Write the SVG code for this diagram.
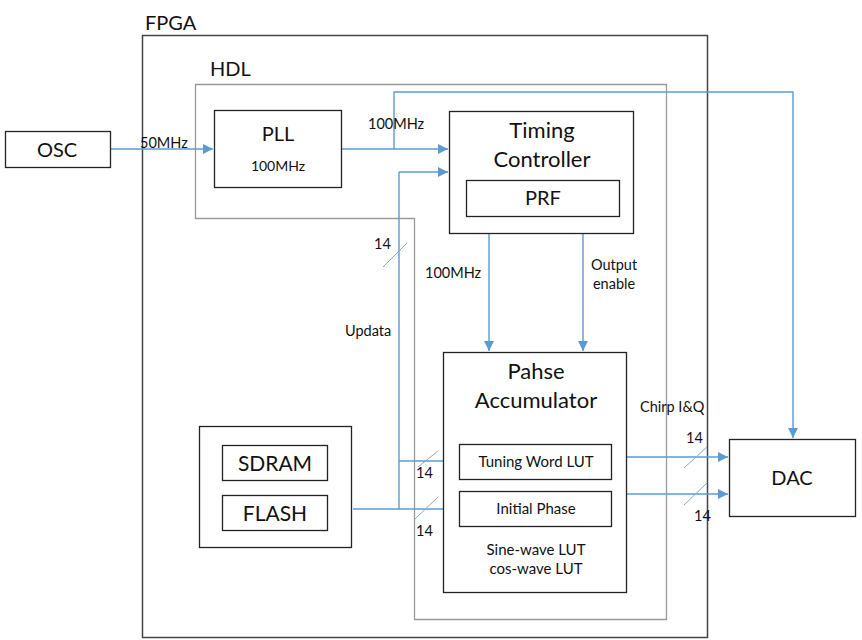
<svg xmlns="http://www.w3.org/2000/svg" width="862" height="640" viewBox="0 0 862 640">
<defs>
<marker id="ah" viewBox="0 0 10 10" refX="10" refY="5" markerWidth="10" markerHeight="10" markerUnits="userSpaceOnUse" orient="auto">
<path d="M0,0 L10,5 L0,10 z" fill="#5b9bd5"/>
</marker>
<style>
.box{fill:#fff;stroke:#222;stroke-width:1.3}
.t{font-family:Lato,"Liberation Sans",sans-serif;fill:#111;text-anchor:middle}
.big{font-size:20px}
.lc{font-size:22px}
.sm{font-size:14.5px}
.s{font-family:Lato,"Liberation Sans",sans-serif;fill:#111;font-size:14.5px}
.c{fill:none;stroke:#5b9bd5;stroke-width:1.4}
.sl{stroke:#8aa9c9;stroke-width:1}
</style>
</defs>
<rect width="862" height="640" fill="#fff"/>
<g id="fpga">
<rect x="142.5" y="35.5" width="565" height="602" fill="none" stroke="#444" stroke-width="1.5"/>
<text x="145" y="30" class="s" style="font-size:20px">FPGA</text>
</g>
<g id="hdl">
<path d="M195.5,84.5 H666.5 V619.5 H414.5 V218.5 H195.5 Z" fill="none" stroke="#9a9a9a" stroke-width="1.3"/>
<text x="210" y="76" class="s" style="font-size:20px">HDL</text>
</g>
<g id="connectors">
<path class="c" d="M110,149 H213" marker-end="url(#ah)"/>
<path class="c" d="M341,149 H448" marker-end="url(#ah)"/>
<path class="c" d="M394,149 V92 H793 V438" marker-end="url(#ah)"/>
<path class="c" d="M399,172 V509"/>
<path class="c" d="M399,172 H448" marker-end="url(#ah)"/>
<path class="c" d="M399,461 H458" marker-end="url(#ah)"/>
<path class="c" d="M353,509 H458" marker-end="url(#ah)"/>
<path class="c" d="M489,234 V351" marker-end="url(#ah)"/>
<path class="c" d="M583,234 V351" marker-end="url(#ah)"/>
<path class="c" d="M627,457 H728" marker-end="url(#ah)"/>
<path class="c" d="M627,494 H728" marker-end="url(#ah)"/>
<line class="sl" x1="383" y1="267" x2="407" y2="243"/>
<line class="sl" x1="418" y1="467" x2="438" y2="451"/>
<line class="sl" x1="415" y1="519" x2="438" y2="497"/>
<line class="sl" x1="684" y1="468" x2="707" y2="447"/>
<line class="sl" x1="684" y1="505" x2="707" y2="483"/>
<text x="140" y="148" class="s">50MHz</text>
<text x="368" y="129" class="s">100MHz</text>
<text x="374" y="249" class="s">14</text>
<text x="425" y="278" class="s">100MHz</text>
<text x="614" y="270" class="t sm">Output</text>
<text x="614" y="289" class="t sm">enable</text>
<text x="345" y="336" class="s">Updata</text>
<text x="416" y="478" class="s">14</text>
<text x="416" y="536" class="s">14</text>
<text x="640" y="412" class="s">Chirp I&amp;Q</text>
<text x="686" y="443" class="s">14</text>
<text x="694" y="521" class="s">14</text>
</g>
<g id="osc">
<rect class="box" x="5.5" y="131.5" width="105" height="36"/>
<text x="57" y="157" class="t big">OSC</text>
</g>
<g id="pll">
<rect class="box" x="214.5" y="110.5" width="127" height="77"/>
<text x="278" y="141" class="t big">PLL</text>
<text x="278" y="171" class="t sm" style="font-size:14px">100MHz</text>
</g>
<g id="timing">
<rect class="box" x="449.5" y="111.5" width="184" height="122"/>
<text x="542" y="138" class="t lc">Timing</text>
<text x="542" y="167" class="t lc">Controller</text>
<rect class="box" x="466.5" y="180.5" width="153" height="36"/>
<text x="543" y="205" class="t big">PRF</text>
</g>
<g id="accum">
<rect class="box" x="443.5" y="352.5" width="183" height="240"/>
<text x="536" y="379" class="t lc">Pahse</text>
<text x="536" y="408" class="t lc">Accumulator</text>
<rect class="box" x="459.5" y="444.5" width="152" height="35"/>
<text x="536" y="467" class="t sm" style="font-size:15px">Tuning Word LUT</text>
<rect class="box" x="459.5" y="491.5" width="152" height="35"/>
<text x="536" y="514" class="t sm" style="font-size:15px">Initial Phase</text>
<text x="536" y="555" class="t sm" style="font-size:15px">Sine-wave LUT</text>
<text x="536" y="574" class="t sm" style="font-size:15px">cos-wave LUT</text>
</g>
<g id="memory">
<rect class="box" x="199.5" y="426.5" width="152" height="121"/>
<rect class="box" x="222.5" y="445.5" width="105" height="35"/>
<text x="275" y="471" class="t big" style="font-size:21px">SDRAM</text>
<rect class="box" x="222.5" y="495.5" width="105" height="35"/>
<text x="275" y="521" class="t big" style="font-size:21px">FLASH</text>
</g>
<g id="dac">
<rect class="box" x="729.5" y="439.5" width="126" height="77"/>
<text x="792" y="485" class="t big">DAC</text>
</g>
</svg>
